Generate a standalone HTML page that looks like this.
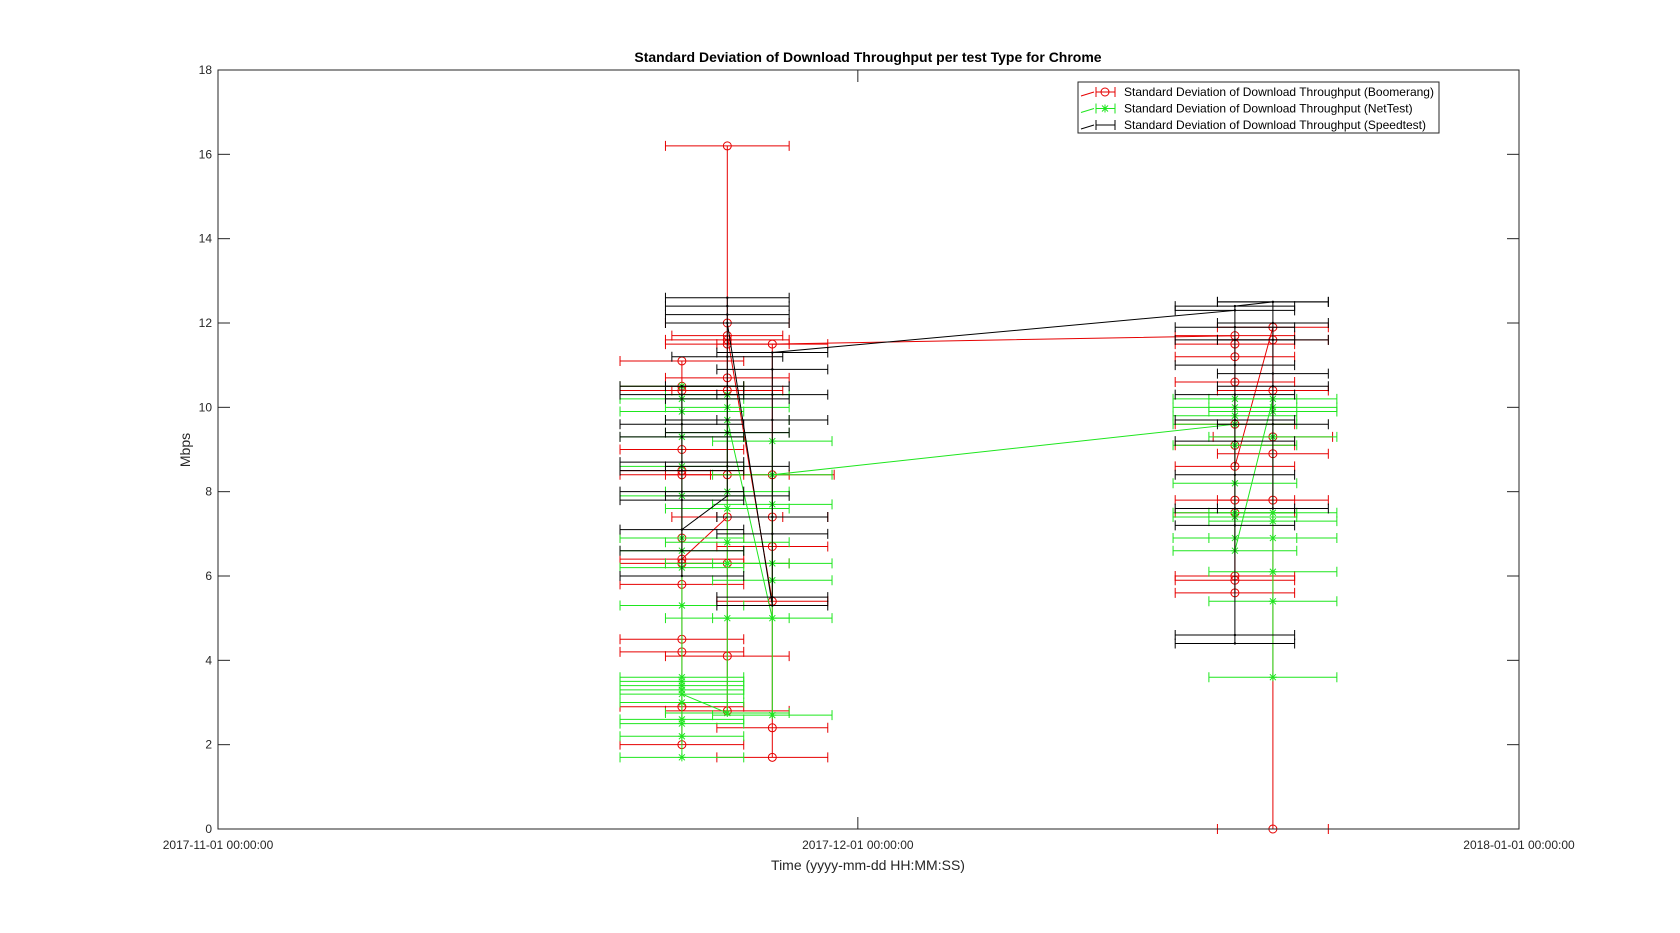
<!DOCTYPE html>
<html><head><meta charset="utf-8">
<style>
html,body{margin:0;padding:0;background:#fff;}
svg{display:block;font-family:"Liberation Sans",sans-serif;}
</style></head>
<body>
<svg id="chart" width="1680" height="933">
  <text x="868" y="62" text-anchor="middle" font-size="14" font-weight="bold">Standard Deviation of Download Throughput per test Type for Chrome</text>
  <g id="series"></g>
  <rect x="218" y="70" width="1301" height="759" fill="none" stroke="#262626" stroke-width="1"/>
  <g id="axes"></g>
  <text x="868" y="870" text-anchor="middle" font-size="14" fill="#262626">Time (yyyy-mm-dd HH:MM:SS)</text>
  <text x="190" y="450" text-anchor="middle" font-size="14" fill="#262626" transform="rotate(-90 190 450)">Mbps</text>
  <g id="legend">
    <rect x="1078" y="82" width="361" height="51" fill="#fff" stroke="#262626" stroke-width="1"/>
  </g>
</svg>
<script>
// ---- data (days since 2017-11-01) ----
const xTickLabels = ["2017-11-01 00:00:00","2017-12-01 00:00:00","2018-01-01 00:00:00"];
const xTickDays = [0, 30, 61];
const yTicks = [0,2,4,6,8,10,12,14,16,18];

const boomDays = [21.75,21.75,21.75,21.75,21.75,21.75,21.75,21.75,21.75,21.75,21.75,21.75,21.75,21.75,
  23.88,23.88,23.88,23.88,23.88,23.88,23.88,23.88,23.88,23.88,23.88,23.88,
  25.99,25.99,25.99,25.99,25.99,25.99,25.99,
  47.68,47.68,47.68,47.68,47.68,47.68,47.68,47.68,47.68,47.68,47.68,47.68,
  49.46,49.46,49.46,49.46,49.46,49.46,49.46];
const boomVals = [11.1,10.5,10.4,9.0,8.5,8.4,6.9,5.8,4.5,4.2,2.9,2.0,6.3,6.4,
  7.4,6.3,4.1,2.8,8.4,10.4,16.2,12.0,10.7,11.5,11.6,11.7,
  5.4,6.7,7.4,2.4,1.7,8.4,11.5,
  11.7,11.5,11.2,10.6,9.6,9.1,7.8,7.5,6.0,5.9,5.6,8.6,
  11.9,11.6,10.4,9.3,8.9,7.8,0.0];
const boomErr = [2.9,2.9,2.9,2.9,2.9,2.9,2.9,2.9,2.9,2.9,2.9,2.9,2.9,2.9,
  2.6,2.9,2.9,2.9,2.9,2.6,2.9,2.9,2.9,2.9,2.9,2.6,
  2.6,2.6,2.6,2.6,2.6,2.9,2.6,
  2.8,2.8,2.8,2.8,2.8,2.8,2.8,2.8,2.8,2.8,2.8,2.8,
  2.6,2.6,2.6,2.8,2.6,2.6,2.6];

const netDays = [21.75,21.75,21.75,21.75,21.75,21.75,21.75,21.75,21.75,21.75,21.75,21.75,21.75,21.75,21.75,21.75,21.75,21.75,21.75,21.75,
  23.88,23.88,23.88,23.88,23.88,23.88,23.88,23.88,23.88,23.88,
  25.99,25.99,25.99,25.99,25.99,25.99,25.99,
  47.68,47.68,47.68,47.68,47.68,47.68,47.68,47.68,47.68,47.68,
  49.46,49.46,49.46,49.46,49.46,49.46,49.46,49.46,49.46,49.46];
const netVals = [10.5,10.2,9.9,9.3,8.6,7.9,6.9,6.6,6.2,5.3,1.7,2.2,2.5,2.6,3.0,3.6,3.5,3.4,3.3,3.2,
  2.75,5.0,6.3,6.8,7.6,8.0,9.4,10.0,10.3,9.7,
  5.0,5.9,6.3,2.7,7.7,9.2,8.4,
  9.6,10.2,10.0,9.8,9.1,8.2,7.5,7.4,6.9,6.6,
  10.2,10.0,9.9,9.3,7.5,7.3,6.9,6.1,5.4,3.6];
const netErr = [2.9,2.9,2.9,2.9,2.9,2.9,2.9,2.9,2.9,2.9,2.9,2.9,2.9,2.9,2.9,2.9,2.9,2.9,2.9,2.9,
  2.9,2.9,2.9,2.9,2.9,2.9,2.9,2.9,2.9,2.9,
  2.8,2.8,2.8,2.8,2.8,2.8,2.8,
  2.9,2.9,2.9,2.9,2.9,2.9,2.9,2.9,2.9,2.9,
  3.0,3.0,3.0,3.0,3.0,3.0,3.0,3.0,3.0,3.0];

const speedDays = [21.75,21.75,21.75,21.75,21.75,21.75,21.75,21.75,21.75,21.75,21.75,
  23.88,23.88,23.88,23.88,23.88,23.88,23.88,23.88,23.88,23.88,23.88,
  25.99,25.99,25.99,25.99,25.99,25.99,25.99,25.99,
  47.68,47.68,47.68,47.68,47.68,47.68,47.68,47.68,47.68,47.68,47.68,47.68,47.68,
  49.46,49.46,49.46,49.46,49.46,49.46,49.46,49.46];
const speedVals = [10.5,10.3,9.6,9.3,8.7,8.5,8.0,7.8,6.6,6.0,7.1,
  7.9,8.6,9.4,9.7,10.2,10.5,11.2,12.4,12.6,12.2,12.0,
  5.3,5.5,7.0,7.4,9.7,10.3,10.9,11.3,
  12.3,11.9,11.6,11.0,10.3,9.7,9.2,8.4,7.6,7.2,4.6,4.4,12.4,
  12.5,12.5,12.0,11.6,10.8,10.5,9.6,7.6];
const speedErr = [2.9,2.9,2.9,2.9,2.9,2.9,2.9,2.9,2.9,2.9,2.9,
  2.9,2.9,2.9,2.9,2.9,2.9,2.6,2.9,2.9,2.9,2.9,
  2.6,2.6,2.6,2.6,2.6,2.6,2.6,2.6,
  2.8,2.8,2.8,2.8,2.8,2.8,2.8,2.8,2.8,2.8,2.8,2.8,2.8,
  2.6,2.6,2.6,2.6,2.6,2.6,2.6,2.6];

// ---- scales ----
const NS='http://www.w3.org/2000/svg';
const X0=218, X1=1519, Y0=829, Y1=70, DMAX=61, VMAX=18;
const xs = d => X0 + d/DMAX*(X1-X0);
const ys = v => Y0 - v/VMAX*(Y0-Y1);
function mk(tag, attrs, parent){const e=document.createElementNS(NS,tag);for(const k in attrs)e.setAttribute(k,attrs[k]);parent.appendChild(e);return e;}

const axes=document.getElementById('axes');
yTicks.forEach(v=>{
  const y=ys(v);
  const t1=mk('line',{x1:X0,x2:X0+12,y1:y,y2:y,stroke:'#262626'},axes);
  
  
  mk('line',{x1:X1,x2:X1-12,y1:y,y2:y,stroke:'#262626'},axes);
  const lb=mk('text',{x:X0-6,y:y+4,'text-anchor':'end','font-size':12,fill:'#262626'},axes);
  lb.textContent=v;
  
  
});
xTickDays.forEach((d,i)=>{
  const x=xs(d);
  mk('line',{x1:x,x2:x,y1:Y0,y2:Y0-12,stroke:'#262626'},axes);
  mk('line',{x1:x,x2:x,y1:Y1,y2:Y1+12,stroke:'#262626'},axes);
  const lb=mk('text',{x:x,y:Y0+20,'text-anchor':'middle','font-size':12,fill:'#262626'},axes);
  lb.textContent=xTickLabels[i];
  
  
});

const sg=document.getElementById('series');
function drawSeries(days, vals, errs, color, marker, name){
  const g=mk('g',{},sg);
  
  
  const pts=days.map((d,i)=>xs(d).toFixed(1)+','+ys(vals[i]).toFixed(1)).join(' ');
  mk('polyline',{points:pts,fill:'none',stroke:color,'stroke-width':1},g);
  days.forEach((d,i)=>{
    const y=ys(vals[i]), xl=xs(d-errs[i]), xr=xs(d+errs[i]), xc=xs(d);
    const bar=mk('path',{d:`M${xl},${y}H${xr}M${xl},${y-5}V${y+5}M${xr},${y-5}V${y+5}`,stroke:color,'stroke-width':1,fill:'none'},g);
    
    
    if(marker==='o') mk('circle',{cx:xc,cy:y,r:4,fill:'none',stroke:color},g);
    else if(marker==='*') mk('path',{d:`M${xc-4},${y}H${xc+4}M${xc},${y-4}V${y+4}M${xc-3},${y-3}L${xc+3},${y+3}M${xc-3},${y+3}L${xc+3},${y-3}`,stroke:color,fill:'none'},g);
    else mk('circle',{cx:xc,cy:y,r:1.2,fill:color},g);
  });
}
drawSeries(boomDays,boomVals,boomErr,'#e60000','o','series-boomerang');
drawSeries(netDays,netVals,netErr,'#1ee61e','*','series-nettest');
drawSeries(speedDays,speedVals,speedErr,'#000000','.','series-speedtest');

// legend
const lg=document.getElementById('legend');
const legNames=['Standard Deviation of Download Throughput (Boomerang)','Standard Deviation of Download Throughput (NetTest)','Standard Deviation of Download Throughput (Speedtest)'];
const legColors=['#e60000','#1ee61e','#000000'];
legNames.forEach((n,i)=>{
  const y=92+i*16.5;
  const g=mk('g',{},lg);
  
  
  mk('path',{d:`M1081,${y+4}L1094,${y}M1096,${y}H1115M1096,${y-5}V${y+5}M1115,${y-5}V${y+5}`,stroke:legColors[i],fill:'none'},g);
  if(i===0) mk('circle',{cx:1105,cy:y,r:4,fill:'none',stroke:legColors[i]},g);
  if(i===1) mk('path',{d:`M1101,${y}H1109M1105,${y-4}V${y+4}M1102,${y-3}L1108,${y+3}M1102,${y+3}L1108,${y-3}`,stroke:legColors[i]},g);
  const t=mk('text',{x:1124,y:y+4,'font-size':12,fill:'#000'},g);
  t.textContent=n;
});
</script>
</body></html>
